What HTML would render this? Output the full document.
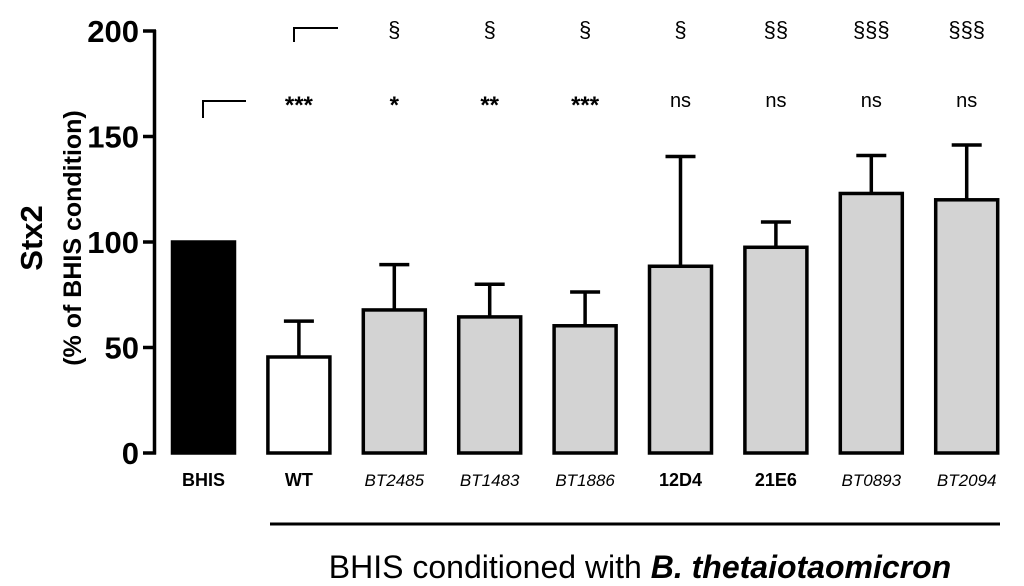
<!DOCTYPE html>
<html><head><meta charset="utf-8">
<style>body{margin:0;background:#fff}svg{display:block}text{font-family:"Liberation Sans",sans-serif}</style>
</head><body>
<svg id="chart" width="1024" height="586" viewBox="0 0 1024 586"></svg>
<script>
const categories=["BHIS","WT","BT2485","BT1483","BT1886","12D4","21E6","BT0893","BT2094"];
const values=[100,45.5,67.8,64.5,60.3,88.5,97.5,123,120];
const errors=[0,17,21.5,15.5,16,52,12,18,26];
const starLabels=["","***","*","**","***","ns","ns","ns","ns"];
const sectLabels=["","","§","§","§","§","§§","§§§","§§§"];
const yTicks=[0,50,100,150,200];
const italic=[false,false,true,true,true,false,false,true,true];
const bold=[true,true,false,false,false,true,true,false,false];
const fills=["#000","#fff","#d3d3d3","#d3d3d3","#d3d3d3","#d3d3d3","#d3d3d3","#d3d3d3","#d3d3d3"];

const svg=document.getElementById('chart');
const NS='http://www.w3.org/2000/svg';
const y0=453,y1=31;
const Y=v=>y0-(v/200)*(y0-y1);
const X=i=>203.5+i*95.4;
const bw=62;
function mk(t,a,txt){const e=document.createElementNS(NS,t);for(const k in a)e.setAttribute(k,a[k]);if(txt!==undefined)e.textContent=txt;svg.appendChild(e);return e;}

let ax=mk('line',{x1:154.5,y1:Y(200)-1,x2:154.5,y2:y0+1.5,stroke:'#000','stroke-width':3.5});

yTicks.forEach(t=>{
 let l=mk('line',{x1:143,y1:Y(t),x2:156,y2:Y(t),stroke:'#000','stroke-width':3.5});
 
 let tx=mk('text',{x:139,y:Y(t)+11,'text-anchor':'end','font-size':31,'font-weight':'bold'},t);
 
});
let yt=mk('text',{transform:'translate(42,238) rotate(-90)','text-anchor':'middle','font-size':31,'font-weight':'bold'},'Stx2');

let ys=mk('text',{transform:'translate(81,238) rotate(-90)','text-anchor':'middle','font-size':25,'font-weight':'bold'},'(% of BHIS condition)');


categories.forEach((c,i)=>{
 const cx=X(i),v=values[i],e=errors[i];
 if(e>0){
  let el=mk('line',{x1:cx,y1:Y(v),x2:cx,y2:Y(v+e),stroke:'#000','stroke-width':3.5});
  
  let ec=mk('line',{x1:cx-15,y1:Y(v+e),x2:cx+15,y2:Y(v+e),stroke:'#000','stroke-width':3.5});
  
 }
 let r=mk('rect',{x:cx-bw/2,y:Y(v),width:bw,height:y0-Y(v),fill:fills[i],stroke:'#000','stroke-width':3.5});
 
 let a={x:cx,y:486,'text-anchor':'middle','font-size':bold[i]?18:17};
 if(bold[i])a['font-weight']='bold';if(italic[i])a['font-style']='italic';
 let l=mk('text',a,c);
 if(starLabels[i]){const ns=starLabels[i]==='ns';let s=mk('text',{x:cx,y:ns?107:113,'text-anchor':'middle','font-size':ns?20:24,'font-weight':ns?'normal':'bold'},starLabels[i]);
  }
 if(sectLabels[i]){let s=mk('text',{x:cx,y:37,'text-anchor':'middle','font-size':22},sectLabels[i]);
  }
});
let b1=mk('polyline',{points:'203,118 203,101 246,101',fill:'none',stroke:'#000','stroke-width':2});

let b2=mk('polyline',{points:'294,42 294,28 338,28',fill:'none',stroke:'#000','stroke-width':2});

let gl=mk('line',{x1:270,y1:524,x2:1000,y2:524,stroke:'#000','stroke-width':3});

let gt=mk('text',{x:640,y:578,'text-anchor':'middle','font-size':32},'');

gt.innerHTML='BHIS conditioned with <tspan font-weight="bold" font-style="italic">B. thetaiotaomicron</tspan>';
</script>
</body></html>
